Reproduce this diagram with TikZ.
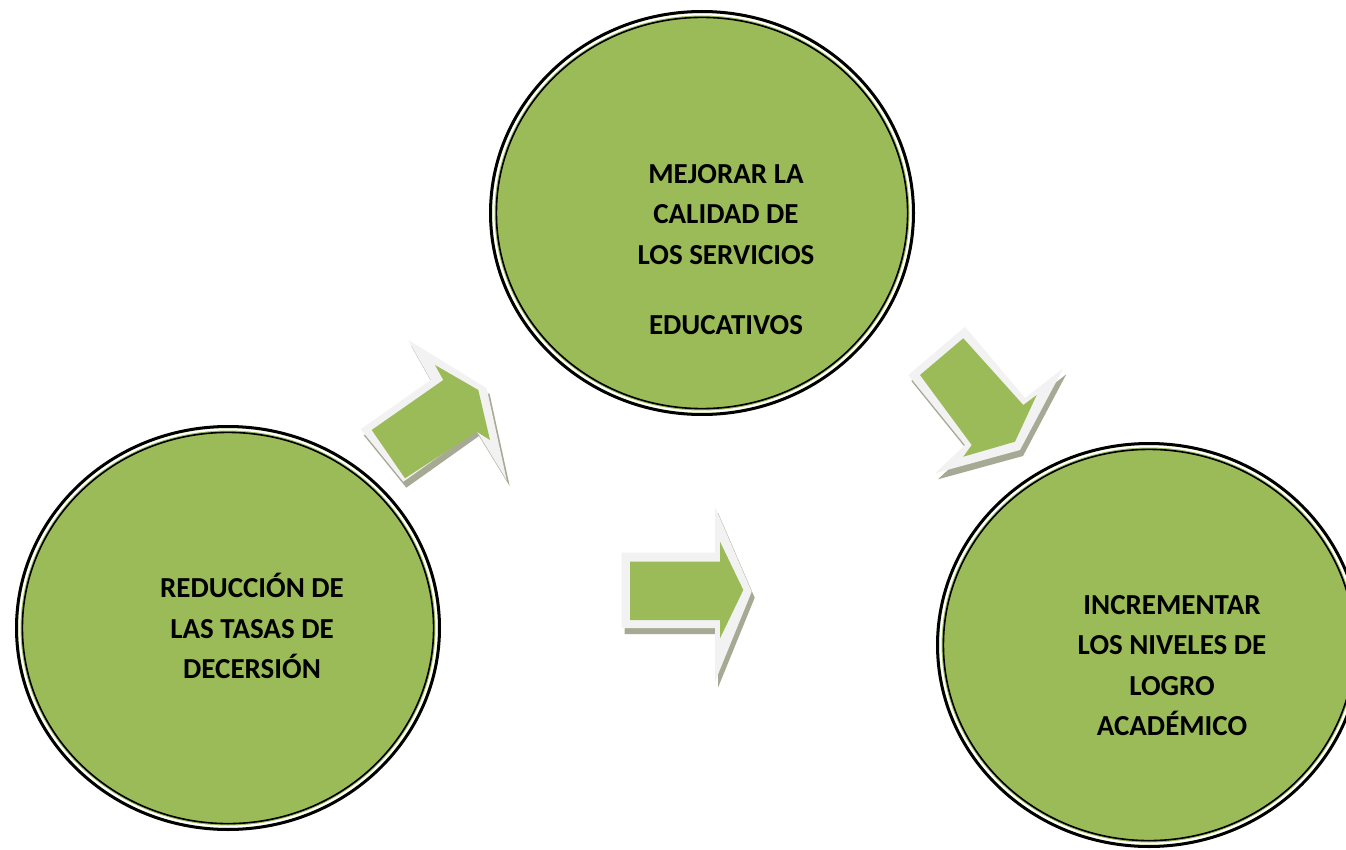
\documentclass[tikz,border=0pt]{standalone}
\usepackage{fontspec}
\setmainfont{Carlito}
\usetikzlibrary{shapes.geometric}
\definecolor{hoja}{RGB}{155, 187, 89}
\definecolor{borde}{RGB}{242, 242, 242}
\definecolor{sombra}{RGB}{166, 170, 148}

\tikzset{
  circulo/.style={ellipse, fill=hoja, draw=black, line width=3pt, inner sep=0pt,
    minimum width=423pt, minimum height=403pt},
  texto/.style={align=center, inner sep=0pt, font=\bfseries\fontsize{29}{40.5}\selectfont}
}
\newcommand{\flecha}[2]{%
  \fill[sombra, shift={(3,6)}] #1;
  \fill[borde] #1;
  \fill[hoja] #2;}

\begin{document}
\begin{tikzpicture}[x=1pt, y=-1pt]
   \useasboundingbox (0,0) rectangle (1346,850);
   \clip (0,0) rectangle (1346,850);

   \draw[]
    (228,628) node[circulo](reduccion) {}
    (702,213) node[circulo](calidad) {}
    (1149,645) node[circulo](logro) {};

   %double border
   \foreach \c in {reduccion, calidad, logro} {
     \draw[white, line width=2.2pt] (\c.center) ellipse [x radius=208.6, y radius=198.6];
     \draw[black, line width=1.6pt] (\c.center) ellipse [x radius=205.6, y radius=195.6];
   }

   \draw[]
    (252,626) node[texto](reduccion texto) {REDUCCIÓN DE\\LAS TASAS DE\\DECERSIÓN}
    (726,249.5) node[texto](calidad texto) {MEJORAR LA\\CALIDAD DE\\LOS SERVICIOS\\[30pt]EDUCATIVOS}
    (1172,665.5) node[texto](logro texto) {INCREMENTAR\\LOS NIVELES DE\\LOGRO\\ACADÉMICO};

   %arrows
   \flecha{(360.7,429.3) -- (430.7,380) -- (408.3,340) -- (486.7,388.3) -- (506.7,480) -- (476,430) -- (403.3,481.7) -- cycle}
          {(371.7,430) -- (443.3,380) -- (435,365) -- (478.3,390) -- (490,440) -- (476.7,431.7) -- (405,478.3) -- cycle}
   \flecha{(621.7,552.7) -- (715,552.7) -- (715,506.7) -- (751.7,591.7) -- (715,681.7) -- (715,628) -- (621.7,628) -- cycle}
          {(630,561.7) -- (720,561.7) -- (720,541.7) -- (743.3,590) -- (720,638.3) -- (720,620) -- (630,620) -- cycle}
   \flecha{(965,326.7) -- (1025,398) -- (1063.3,368.3) -- (1020,450) -- (935,473.3) -- (965,445) -- (908.3,375) -- cycle}
          {(963.3,338.3) -- (1023.3,405) -- (1036.7,395) -- (1015,441.7) -- (963.3,456.7) -- (971.7,445) -- (920,375) -- cycle}
\end{tikzpicture}
\end{document}
